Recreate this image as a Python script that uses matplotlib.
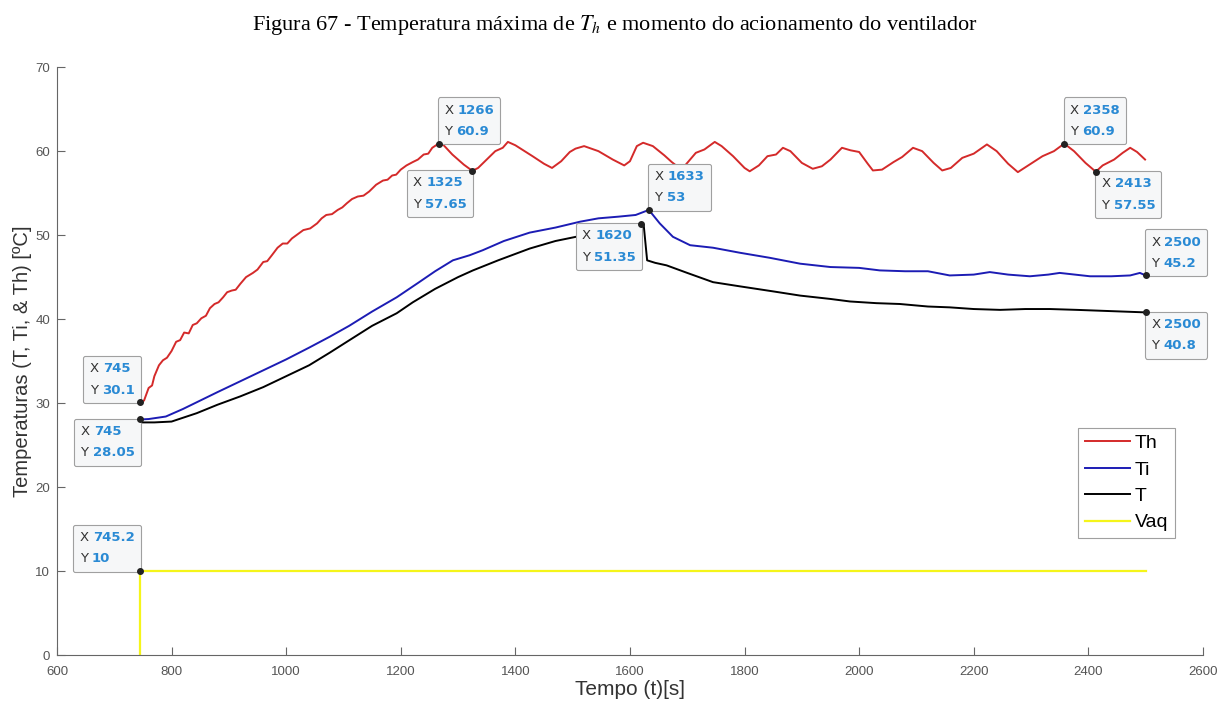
import numpy as np
import matplotlib
matplotlib.use('Agg')
import matplotlib.pyplot as plt
from matplotlib.offsetbox import TextArea, HPacker, VPacker, AnnotationBbox

plt.rcParams['mathtext.fontset'] = 'stix'

# --- data ---
th_t = [745, 752, 760, 766, 770, 778, 785, 792, 800, 808, 815, 822, 830, 837, 844, 852, 860, 867,
        875, 882, 890, 897, 905, 912, 920, 930, 942, 950, 960, 967, 975, 985, 994, 1002, 1010,
        1020, 1030, 1042, 1054, 1062, 1070, 1080, 1090, 1098, 1106, 1115, 1125, 1135, 1145,
        1157, 1169, 1177, 1185, 1192, 1200, 1210, 1221, 1230, 1240, 1248, 1255, 1266, 1275,
        1290, 1310, 1325, 1335, 1350, 1365, 1378, 1387, 1400, 1430,
        1450, 1464, 1480, 1495, 1505, 1520, 1545, 1570, 1590, 1600, 1612, 1623, 1640, 1660,
        1673, 1690, 1700, 1715, 1730, 1748, 1760, 1780, 1800, 1809, 1825, 1840, 1855, 1867,
        1880, 1900, 1919, 1935, 1950, 1970, 1985, 2000, 2015, 2024, 2040, 2060, 2075, 2094,
        2110, 2130, 2145, 2160, 2180, 2200, 2223, 2240, 2260, 2277, 2295, 2320, 2340, 2358,
        2375, 2395, 2413, 2425, 2445, 2460, 2473, 2485, 2499]
th_v = [30.1, 30.3, 31.8, 32.1, 33.2, 34.5, 35.1, 35.4, 36.2, 37.3, 37.5, 38.4, 38.3, 39.3, 39.5,
        40.1, 40.4, 41.3, 41.8, 42.0, 42.6, 43.2, 43.4, 43.5, 44.2, 45.0, 45.5, 45.9, 46.8, 46.9,
        47.6, 48.5, 49.0, 49.0, 49.6, 50.1, 50.6, 50.8, 51.4, 52.0, 52.4, 52.5, 53.0, 53.3,
        53.8, 54.3, 54.6, 54.7, 55.2, 56.0, 56.5, 56.6, 57.1, 57.2, 57.8, 58.3, 58.7, 59.0,
        59.6, 59.7, 60.4, 60.9, 60.7,
        59.6, 58.4, 57.65, 58.0, 59.0, 60.0, 60.4, 61.1, 60.7, 59.4,
        58.5, 58.0, 58.8, 59.9, 60.3, 60.6, 60.0, 59.0, 58.3, 58.8, 60.6, 61.0, 60.6, 59.5,
        58.7, 57.8, 58.6, 59.8, 60.2, 61.1, 60.6, 59.4, 58.0, 57.6, 58.3, 59.4, 59.6, 60.4,
        60.0, 58.6, 57.9, 58.2, 59.0, 60.4, 60.1, 59.9, 58.5, 57.7, 57.8, 58.7, 59.3, 60.4,
        60.0, 58.6, 57.7, 58.0, 59.2, 59.7, 60.8, 60.0, 58.5, 57.5, 58.3, 59.4, 60.0, 60.9,
        60.0, 58.6, 57.55, 58.3, 59.0, 59.8, 60.4, 59.9, 59.0]

ti_t = [745, 760, 790, 820, 844, 880, 920, 960, 1000, 1040, 1076, 1110, 1150, 1193, 1230,
        1260, 1291, 1320, 1343, 1380, 1425, 1470, 1513, 1545, 1580, 1610, 1633, 1652, 1675,
        1705, 1745, 1792, 1844, 1897, 1950, 2000, 2036, 2080, 2120, 2158, 2200, 2228, 2260,
        2298, 2330, 2350, 2403, 2440, 2473, 2490, 2500]
ti_v = [28.05, 28.1, 28.4, 29.3, 30.1, 31.3, 32.6, 33.9, 35.2, 36.6, 37.9, 39.2, 40.9, 42.6, 44.3,
        45.7, 47.0, 47.6, 48.2, 49.3, 50.3, 50.9, 51.6, 52.0, 52.2, 52.4, 53.0, 51.4, 49.8,
        48.8, 48.5, 47.9, 47.3, 46.6, 46.2, 46.1, 45.8, 45.7, 45.7, 45.2, 45.3, 45.6, 45.3,
        45.1, 45.3, 45.5, 45.1, 45.1, 45.2, 45.5, 45.2]

t_t = [745, 770, 800, 844, 880, 920, 960, 1000, 1040, 1076, 1106, 1150, 1193, 1221, 1260,
       1300, 1326, 1370, 1425, 1470, 1513, 1560, 1600, 1620, 1624, 1630, 1644, 1664, 1700,
       1745, 1792, 1850, 1897, 1950, 1984, 2030, 2071, 2120, 2158, 2200, 2246, 2290, 2333,
       2380, 2420, 2460, 2500]
t_v = [27.7, 27.7, 27.8, 28.8, 29.8, 30.8, 31.9, 33.2, 34.5, 36.0, 37.3, 39.2, 40.7, 42.0, 43.6,
       45.0, 45.8, 47.0, 48.4, 49.3, 49.9, 50.4, 50.9, 51.35, 51.2, 47.0, 46.7, 46.4, 45.5,
       44.4, 43.9, 43.3, 42.8, 42.4, 42.1, 41.9, 41.8, 41.5, 41.4, 41.2, 41.1, 41.2, 41.2,
       41.1, 41.0, 40.9, 40.8]

vaq_t = [745.2, 745.2, 2500]
vaq_v = [0, 10, 10]

# data tips: x, y, label x, label y, box alignment
tips = [
    (745, 30.1, '745', '30.1', (1, 0)),
    (745, 28.05, '745', '28.05', (1, 1)),
    (745.2, 10, '745.2', '10', (1, 0)),
    (1266, 60.9, '1266', '60.9', (0, 0)),
    (1325, 57.65, '1325', '57.65', (1, 1)),
    (1633, 53, '1633', '53', (0, 0)),
    (1620, 51.35, '1620', '51.35', (1, 1)),
    (2358, 60.9, '2358', '60.9', (0, 0)),
    (2413, 57.55, '2413', '57.55', (0, 1)),
    (2500, 45.2, '2500', '45.2', (0, 0)),
    (2500, 40.8, '2500', '40.8', (0, 1)),
]

fig = plt.figure(figsize=(12.3, 7.07), dpi=100)
ax = fig.add_axes([0.0463, 0.0735, 0.9317, 0.8315])

ax.plot(th_t, th_v, color='#d42a2a', lw=1.4, label='Th')
ax.plot(ti_t, ti_v, color='#1c1cb4', lw=1.4, label='Ti')
ax.plot(t_t, t_v, color='black', lw=1.4, label='T')
ax.plot(vaq_t, vaq_v, color='#f5f51a', lw=1.6, label='Vaq')

ax.set_xlim(600, 2600)
ax.set_ylim(0, 70)
ax.set_xticks(np.arange(600, 2601, 200))
ax.set_yticks(np.arange(0, 71, 10))
for s in ['top', 'right']:
    ax.spines[s].set_visible(False)
for s in ['left', 'bottom']:
    ax.spines[s].set_color('#666666')
    ax.spines[s].set_linewidth(0.8)
ax.tick_params(direction='in', length=6, width=0.8, color='#666666',
               labelcolor='#555555', labelsize=9.5)
ax.tick_params(axis='x', pad=8)
ax.tick_params(axis='y', pad=5)
for lab in ax.get_xticklabels() + ax.get_yticklabels():
    lab.set_family('Liberation Sans')

ax.set_xlabel('Tempo (t)[s]', fontsize=15, family='Liberation Sans', color='#333333', labelpad=1)
ax.set_ylabel('Temperaturas (T, Ti, & Th) [ºC]', fontsize=14.5, family='Liberation Sans',
              color='#333333', labelpad=2)

leg = ax.legend(loc='upper right', bbox_to_anchor=(0.984, 0.403),
                frameon=True, fancybox=False, handlelength=2.3, handletextpad=0.25,
                borderpad=0.35, labelspacing=0.45, prop={'family': 'Liberation Sans', 'size': 14})
leg.get_frame().set_edgecolor('#888888')
leg.get_frame().set_linewidth(0.8)

for x, y, lx, ly, align in tips:
    ax.plot([x], [y], 'o', color='#222222', ms=4, zorder=9)
    row1 = HPacker(children=[TextArea('X', textprops=dict(color='#333333', size=9.5)),
                             TextArea(lx, textprops=dict(color='#2a8ad4', size=9.5, weight='bold'))],
                   pad=0, sep=3)
    row2 = HPacker(children=[TextArea('Y', textprops=dict(color='#333333', size=9.5)),
                             TextArea(ly, textprops=dict(color='#2a8ad4', size=9.5, weight='bold'))],
                   pad=0, sep=3)
    box = VPacker(children=[row1, row2], pad=0, sep=6, align='left')
    dx = 4 if align[0] == 0 else -4
    dy = 4 if align[1] == 0 else -4
    ab = AnnotationBbox(box, (x, y), xybox=(dx, dy), boxcoords='offset points',
                        box_alignment=align, frameon=True, pad=0.45,
                        bboxprops=dict(facecolor='#f6f7f8', edgecolor='#a0a0a0',
                                       boxstyle='round,pad=0.45,rounding_size=0.15', lw=0.8),
                        zorder=7)
    ax.add_artist(ab)

fig.text(0.5, 0.965, 'Figura 67 - Temperatura máxima de $T_h$ e momento do acionamento do ventilador',
         ha='center', va='center', fontsize=16, family='Liberation Serif')

fig.savefig('out.png', dpi=100)
